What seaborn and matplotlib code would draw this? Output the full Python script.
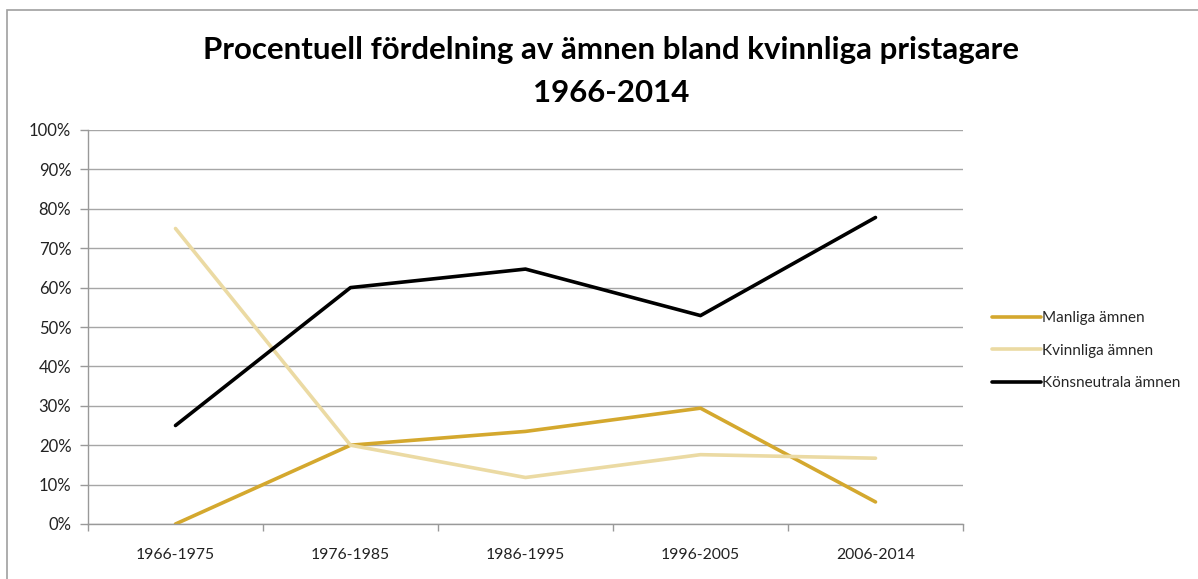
import matplotlib
matplotlib.use('Agg')
import matplotlib.pyplot as plt
import numpy as np
import pandas as pd
import seaborn as sns
from matplotlib.patches import Rectangle
from matplotlib.ticker import FixedLocator

# data
periods = ['1966-1975', '1976-1985', '1986-1995', '1996-2005', '2006-2014']
manliga = [0.0, 20.0, 23.5, 29.4, 5.6]
kvinnliga = [75.0, 20.0, 11.8, 17.6, 16.7]
neutrala = [25.0, 60.0, 64.7, 52.9, 77.8]
series_names = ['Manliga ämnen', 'Kvinnliga ämnen', 'Könsneutrala ämnen']
colors = ['#D4A82E', '#EBDAA3', '#000000']

df = pd.DataFrame({
    'period': periods * 3,
    'value': manliga + kvinnliga + neutrala,
    'serie': np.repeat(series_names, len(periods)),
})
df['x'] = df['period'].map({p: i for i, p in enumerate(periods)})

sns.set_style('white')
plt.rcParams['font.family'] = ['Lato', 'DejaVu Sans']

fig = plt.figure(figsize=(11.98, 5.79), dpi=100)
ax = fig.add_axes([88 / 1198, 1 - 524 / 579, 875 / 1198, 394 / 579])

sns.lineplot(data=df, x='x', y='value', hue='serie', hue_order=series_names,
             palette=colors, linewidth=2.6, ax=ax, sort=False)

ax.set_xlim(-0.5, 4.5)
ax.set_ylim(0, 100)
ax.set_xticks(range(len(periods)))
ax.set_xticklabels(periods, fontsize=11.3, color='#222222')
ax.xaxis.set_minor_locator(FixedLocator(np.arange(-0.5, 4.6, 1)))
ax.tick_params(axis='x', which='major', length=0, pad=17)
ax.tick_params(axis='x', which='minor', length=5, width=1, color='#999999', direction='out', bottom=True)
ax.set_yticks(np.arange(0, 101, 10))
ax.set_yticklabels([f'{v}%' for v in range(0, 101, 10)], fontsize=12, color='#222222')
ax.tick_params(axis='y', length=6, width=1, color='#999999', direction='out', left=True, pad=6)
ax.grid(axis='y', color='#a6a6a6', linewidth=1)
ax.set_axisbelow(True)
for side in ['top', 'right']:
    ax.spines[side].set_visible(False)
for side in ['left', 'bottom']:
    ax.spines[side].set_color('#999999')
    ax.spines[side].set_linewidth(1)
ax.set_xlabel('')
ax.set_ylabel('')

leg = ax.legend(loc='center left', bbox_to_anchor=(1.026, 0.44), borderaxespad=0,
                frameon=False, fontsize=11, handlelength=3.2, handletextpad=0.1,
                labelspacing=1.2)
for line in leg.get_lines():
    line.set_linewidth(2.6)

fig.text(0.51, 0.876, 'Procentuell fördelning av ämnen bland kvinnliga pristagare\n1966-2014',
         ha='center', va='center', fontsize=22.5, fontweight='bold', linespacing=1.65,
         color='black')

fig.patches.append(Rectangle((7 / 1198, -0.1), 2, 1.1 - 10 / 579, transform=fig.transFigure,
                             fill=False, edgecolor='#a0a0a0', linewidth=1.2))

fig.savefig('out.png', dpi=100)
